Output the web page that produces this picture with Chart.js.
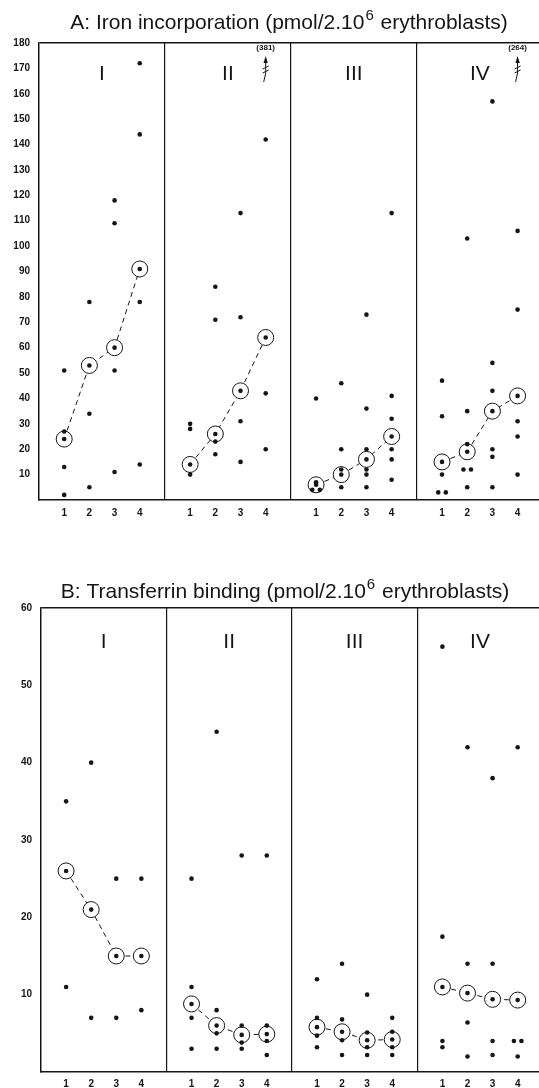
<!DOCTYPE html>
<html>
<head>
<meta charset="utf-8">
<script src="https://cdn.jsdelivr.net/npm/chart.js@4.4.1/dist/chart.umd.min.js"></script>
<style>
  html, body { margin: 0; padding: 0; background: #fff; }
  body { width: 539px; height: 1088px; position: relative; overflow: hidden; }
  #ironChart { position: absolute; left: 0; top: 0; }
  #tfChart { position: absolute; left: 0; top: 540px; }
</style>
</head>
<body>
<canvas id="ironChart" width="539" height="520"></canvas>
<canvas id="tfChart" width="539" height="548"></canvas>
<script>
// sampling points on the x axis and the four groups
var positions = [1, 2, 3, 4];
var groups = ['I', 'II', 'III', 'IV'];

// A: iron incorporation, single values per sampling point
var ironI   = [[51, 27, 13, 2], [78, 34, 5], [118, 109, 51, 11], [172, 144, 78, 14]];
var ironII  = [[30, 28, 10], [84, 71, 23, 18], [113, 72, 31, 15], [142, 42, 20]];
var ironIII = [[40, 7, 4, 4], [46, 20, 12, 5], [73, 36, 20, 12, 10, 5], [113, 41, 32, 20, 16, 8]];
var ironIV  = [[47, 33, 10, 3, 3], [103, 35, 22, 12, 12, 5], [157, 54, 43, 20, 17, 5], [106, 75, 31, 25, 10]];
var ironMeans = [[24, 53, 60, 91], [14, 26, 43, 64], [6, 10, 16, 25], [15, 19, 35, 41]];
var ironOffScale = [null, 381, null, 264];   // values off the top, at point 4

// B: transferrin binding
var tfI   = [[35, 11], [40, 7], [25, 7], [25, 8]];
var tfII  = [[25, 11, 7, 3], [44, 8, 5, 3], [28, 6, 3.8, 3], [28, 6, 4, 2.2]];
var tfIII = [[12, 7, 4.7, 3.2], [14, 6.8, 4.1, 2.2], [10, 5.1, 3.2, 2.2], [7, 5.2, 3.2, 2.2]];
var tfIV  = [[55, 17.5, 4, 3.2], [42, 14, 6.4, 2], [38, 14, 4, 2.2], [42, 4, 4, 2]];
var tfMeans = [[26, 21, 15, 15], [8.8, 6, 4.8, 4.9], [5.8, 5.2, 4.1, 4.2], [11, 10.2, 9.4, 9.3]];
var tfOffScale = [null, null, null, null];

var ironTitle = ['A: Iron incorporation (pmol/2.10', '6', ' erythroblasts)'];
var tfTitle = ['B: Transferrin binding (pmol/2.10', '6', ' erythroblasts)'];

var INK = '#151515';
var FONT = '"Liberation Sans", Arial, Helvetica, sans-serif';

// each group gets its own block of 5 units on one shared x scale
function xOf(g, pos) { return g * 5 + pos; }

function dotData(groupValues, means) {
  var pts = [];
  groupValues.forEach(function (lists, g) {
    lists.forEach(function (vals, p) {
      vals.forEach(function (v, j) {
        // nudge exact ties sideways so both dots show
        var same = vals.filter(function (w) { return w === v; }).length;
        var k = vals.slice(0, j).filter(function (w) { return w === v; }).length;
        var dx = same > 1 ? (k - (same - 1) / 2) * 0.3 : 0;
        pts.push({ x: xOf(g, positions[p]) + dx, y: v });
      });
    });
    means[g].forEach(function (m, p) { pts.push({ x: xOf(g, positions[p]), y: m }); });
  });
  return pts;
}

var panelDecor = {
  id: 'panelDecor',
  afterDraw: function (chart, args, opts) {
    var ctx = chart.ctx, area = chart.chartArea, xs = chart.scales.x;
    ctx.save();
    ctx.fillStyle = INK;
    ctx.strokeStyle = INK;

    // title with raised exponent
    ctx.textAlign = 'left';
    ctx.textBaseline = 'alphabetic';
    ctx.font = '21px ' + FONT;
    var w1 = ctx.measureText(opts.title[0]).width;
    var w3 = ctx.measureText(opts.title[2]).width;
    ctx.font = '15px ' + FONT;
    var w2 = ctx.measureText(opts.title[1]).width + 2;
    var sx = (area.left + area.right) / 2 - (w1 + w2 + w3) / 2 + opts.titleShift;
    ctx.font = '21px ' + FONT;
    ctx.fillText(opts.title[0], sx, opts.titleY);
    ctx.font = '15px ' + FONT;
    ctx.fillText(opts.title[1], sx + w1 + 1, opts.titleY - 9);
    ctx.font = '21px ' + FONT;
    ctx.fillText(opts.title[2], sx + w1 + w2, opts.titleY);

    // roman numerals
    ctx.textAlign = 'center';
    ctx.font = '21px "Liberation Sans Narrow", ' + FONT;
    groups.forEach(function (name, g) {
      ctx.fillText(name, xs.getPixelForValue(xOf(g, 2.5)), area.top + opts.numeralDrop);
    });

    // off-scale values with a broken arrow
    opts.offScale.forEach(function (v, g) {
      if (v === null) return;
      var px = xs.getPixelForValue(xOf(g, 4)), t = area.top;
      ctx.font = 'bold 8px ' + FONT;
      ctx.fillText('(' + v + ')', px, t + 7);
      ctx.lineWidth = 1;
      ctx.beginPath();
      ctx.moveTo(px, t + 16); ctx.lineTo(px, t + 30);
      ctx.lineTo(px - 2, t + 39);
      ctx.stroke();
      ctx.beginPath();
      ctx.moveTo(px, t + 13); ctx.lineTo(px - 2.2, t + 20); ctx.lineTo(px + 2.2, t + 20);
      ctx.closePath(); ctx.fill();
      ctx.beginPath();
      ctx.moveTo(px - 3, t + 26); ctx.lineTo(px + 3, t + 23);
      ctx.moveTo(px - 3, t + 30); ctx.lineTo(px + 3, t + 27);
      ctx.stroke();
    });
    ctx.restore();
  }
};

function makePanel(id, values, means, yMax, leftW, padTop, bottomH, tickPad, decor) {
  var datasets = [{
    label: 'values',
    data: dotData(values, means),
    pointRadius: 2.3,
    pointBackgroundColor: INK,
    pointBorderWidth: 0,
    order: 0
  }];
  means.forEach(function (m, g) {
    datasets.push({
      label: 'mean ' + groups[g],
      data: m.map(function (v, p) { return { x: xOf(g, positions[p]), y: v }; }),
      showLine: true,
      borderColor: INK,
      borderWidth: 1,
      borderDash: [5, 4],
      pointRadius: 8,
      pointBorderWidth: 1,
      pointBorderColor: INK,
      pointBackgroundColor: '#fff',
      order: 1
    });
  });

  var xTicks = [];
  groups.forEach(function (n, g) {
    positions.forEach(function (p) { xTicks.push(xOf(g, p)); });
    if (g > 0) xTicks.push(g * 5);
  });

  return new Chart(document.getElementById(id), {
    type: 'scatter',
    data: { datasets: datasets },
    options: {
      responsive: false,
      animation: false,
      layout: { autoPadding: false, padding: { top: padTop, left: 0, right: 0, bottom: 0 } },
      plugins: { legend: { display: false }, tooltip: { enabled: false }, panelDecor: decor },
      scales: {
        x: {
          type: 'linear', min: 0, max: 19.85,
          afterBuildTicks: function (axis) { axis.ticks = xTicks.map(function (v) { return { value: v }; }); },
          afterFit: function (s) { s.height = bottomH; },
          ticks: {
            autoSkip: false, maxRotation: 0, padding: tickPad, color: INK,
            font: { family: FONT, size: 10, weight: 'bold' },
            callback: function (v) { return v % 5 === 0 ? '' : String(v % 5); }
          },
          grid: {
            drawTicks: false,
            lineWidth: 1.2,
            color: function (c) { return c.tick && c.tick.value % 5 === 0 ? INK : 'rgba(0,0,0,0)'; }
          },
          border: { display: true, color: INK, width: 1.5 }
        },
        y: {
          min: 0, max: yMax,
          afterFit: function (s) { s.width = leftW; },
          ticks: {
            stepSize: 10, padding: 9, color: INK,
            font: { family: FONT, size: 10, weight: 'bold' },
            callback: function (v) { return v === 0 ? '' : v; }
          },
          grid: {
            drawTicks: false,
            lineWidth: 1.5,
            color: function (c) { return c.tick && c.tick.value === yMax ? INK : 'rgba(0,0,0,0)'; }
          },
          border: { display: true, color: INK, width: 1.5 }
        }
      }
    },
    plugins: [panelDecor]
  });
}

makePanel('ironChart', [ironI, ironII, ironIII, ironIV], ironMeans, 180, 39, 43, 20, 7,
  { title: ironTitle, titleY: 29, titleShift: 0, numeralDrop: 37, offScale: ironOffScale });
makePanel('tfChart', [tfI, tfII, tfIII, tfIV], tfMeans, 60, 41, 68, 16, 6,
  { title: tfTitle, titleY: 58, titleShift: -5, numeralDrop: 40, offScale: tfOffScale });
</script>
</body>
</html>
